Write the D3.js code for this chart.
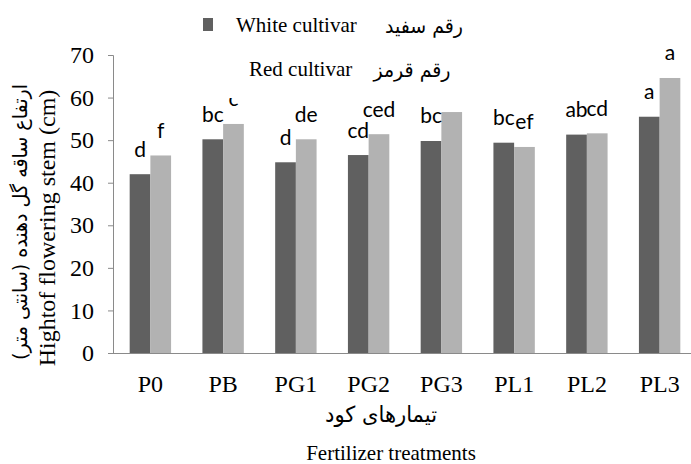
<!DOCTYPE html>
<html>
<head>
<meta charset="utf-8">
<script src="https://cdn.jsdelivr.net/npm/d3@7"></script>
<style>
  body { margin: 0; background: #fff; }
</style>
</head>
<body>
<script>
// values
const categories = ["P0", "PB", "PG1", "PG2", "PG3", "PL1", "PL2", "PL3"];
const whiteValues = [42.0, 50.2, 44.8, 46.5, 49.8, 49.4, 51.3, 55.5];
const redValues = [46.4, 53.8, 50.2, 51.4, 56.6, 48.4, 51.6, 64.6];
const whiteLetters = ["d", "bc", "d", "cd", "bc", "bc", "ab", "a"];
const redLetters = ["f", "c", "de", "ced", "", "ef", "cd", "a"];
const yTicks = [0, 10, 20, 30, 40, 50, 60, 70];
const series = ["white", "red"];

const width = 691, height = 464;
const serif = "'Liberation Serif', 'Times New Roman', serif";
const sans = "Lato, 'Open Sans', sans-serif";
const arabic = "'DejaVu Sans', sans-serif";

const svg = d3.select("body").append("svg")
    .attr("width", width)
    .attr("height", height);

const x0 = d3.scaleBand().domain(categories).range([114, 696]);
const x1 = d3.scaleBand().domain(series)
    .range([x0.bandwidth() / 2 - 20.7, x0.bandwidth() / 2 + 20.7]);
const y = d3.scaleLinear().domain([0, 70]).range([353, 55]);
const color = d3.scaleOrdinal().domain(series).range(["#606060", "#b2b2b2"]);

const rows = categories.map((c, i) => ({
    cat: c,
    bars: [
        { s: "white", v: whiteValues[i], lab: whiteLetters[i] },
        { s: "red", v: redValues[i], lab: redLetters[i] }
    ]
}));

// y axis
const yAxis = svg.append("g")
    .attr("transform", "translate(113,0)")
    .call(d3.axisLeft(y).tickValues(yTicks).tickSize(5).tickPadding(14));
yAxis.select(".domain").attr("stroke", "#8a8a8a");
yAxis.selectAll(".tick line").attr("stroke", "#8a8a8a");
yAxis.selectAll(".tick text")
    .attr("font-family", serif)
    .attr("font-size", 24)
    .attr("fill", "#000");

// bars
const groups = svg.append("g").selectAll("g")
    .data(rows)
    .join("g")
    .attr("transform", d => `translate(${x0(d.cat)},0)`);

groups.selectAll("rect")
    .data(d => d.bars)
    .join("rect")
    .attr("x", d => x1(d.s))
    .attr("y", d => y(d.v))
    .attr("width", x1.bandwidth())
    .attr("height", d => y(0) - y(d.v))
    .attr("fill", d => color(d.s));

groups.selectAll("text")
    .data(d => d.bars)
    .join("text")
    .attr("x", d => x1(d.s) + x1.bandwidth() / 2)
    .attr("y", d => y(d.v) - 17.5)
    .attr("text-anchor", "middle")
    .attr("font-family", sans)
    .attr("font-size", 21)
    .attr("fill", "#000")
    .text(d => d.lab);

// x axis line
const xAxis = svg.append("g")
    .attr("transform", "translate(0,353)")
    .call(d3.axisBottom(x0).tickSize(0).tickPadding(22));
xAxis.select(".domain").attr("stroke", "#8a8a8a").attr("d", "M110,0.5H696");
xAxis.selectAll(".tick text")
    .attr("font-family", serif)
    .attr("font-size", 24)
    .attr("fill", "#000");

// axis titles
svg.append("text")
    .attr("transform", "translate(55,228) rotate(-90)")
    .attr("text-anchor", "middle")
    .attr("font-family", serif)
    .attr("font-size", 24)
    .text("Hightof flowering stem (cm)");

svg.append("text")
    .attr("transform", "translate(27,222) rotate(-90)")
    .attr("text-anchor", "middle")
    .attr("direction", "rtl")
    .attr("font-family", arabic)
    .attr("font-size", 20)
    .attr("textLength", 276)
    .attr("lengthAdjust", "spacingAndGlyphs")
    .text("ارتفاع ساقه گل دهنده (سانتی متر)");

svg.append("text")
    .attr("x", 381).attr("y", 422)
    .attr("text-anchor", "middle")
    .attr("font-family", arabic)
    .attr("font-size", 22)
    .attr("textLength", 112)
    .attr("lengthAdjust", "spacingAndGlyphs")
    .text("تیمارهای کود");

svg.append("text")
    .attr("x", 391).attr("y", 460)
    .attr("text-anchor", "middle")
    .attr("font-family", serif)
    .attr("font-size", 21)
    .text("Fertilizer treatments");

// legend (white box covers part of the PB label, as in the figure)
const legend = svg.append("g");
legend.append("rect")
    .attr("x", 195).attr("y", 0)
    .attr("width", 280).attr("height", 98)
    .attr("fill", "#fff");
legend.append("rect")
    .attr("x", 203).attr("y", 18)
    .attr("width", 10).attr("height", 13)
    .attr("fill", color("white"));
legend.append("text")
    .attr("x", 236).attr("y", 32)
    .attr("font-family", serif).attr("font-size", 21)
    .text("White cultivar");
legend.append("text")
    .attr("x", 424).attr("y", 33)
    .attr("text-anchor", "middle")
    .attr("font-family", arabic).attr("font-size", 20)
    .attr("textLength", 78)
    .attr("lengthAdjust", "spacingAndGlyphs")
    .text("رقم سفید");
legend.append("text")
    .attr("x", 249).attr("y", 76)
    .attr("font-family", serif).attr("font-size", 21)
    .text("Red cultivar");
legend.append("text")
    .attr("x", 412).attr("y", 77)
    .attr("text-anchor", "middle")
    .attr("font-family", arabic).attr("font-size", 20)
    .attr("textLength", 77)
    .attr("lengthAdjust", "spacingAndGlyphs")
    .text("رقم قرمز");
</script>
</body>
</html>
